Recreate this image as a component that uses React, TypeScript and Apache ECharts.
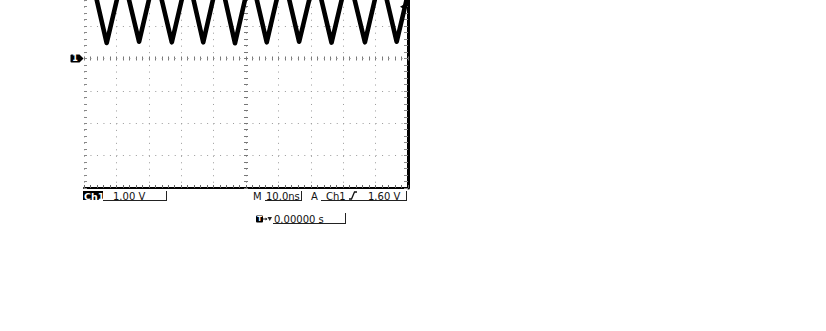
import React, { useEffect, useRef } from "react";
import * as echarts from "echarts";

// time in ns (10 ns/div), volts (1 V/div)
const traceTime = [-50, -48.0, -43.0, -38.0, -33.0, -28.0, -22.9, -18.0, -13.2, -8.3, -3.4, 1.5, 6.4, 11.4, 16.4, 21.4, 26.4, 31.5, 36.7, 41.6, 46.5, 50];
const traceVolts = [2.3, 2.65, 0.48, 2.6, 0.52, 2.65, 0.5, 2.6, 0.5, 2.65, 0.47, 2.6, 0.5, 2.65, 0.52, 2.6, 0.49, 2.65, 0.5, 2.6, 0.52, 2.0];

const timeRange = [-50, 50];
const voltRange = [-4, 4];
const groundLevel = 0;
const triggerLevel = 1.6;

const ch1Label = "Ch1";
const voltsPerDiv = "1.00 V";
const timePerDiv = "10.0ns";
const triggerSource = "Ch1";
const triggerText = "1.60 V";
const delayText = "0.00000 s";

const FONT = '10px "DejaVu Sans", sans-serif';
const DOT = [1, 5.48];
const SHIFT = 100; // the chart box starts 100px above the page

export default function App() {
  const ref = useRef<HTMLDivElement>(null);
  useEffect(() => {
    if (!ref.current) return;
    const chart = echarts.init(ref.current, null, { renderer: "svg" });
    const data = traceTime.map((t, i) => [t, traceVolts[i]]);

    const tickAxisBase = (extra: any) => ({
      type: "value",
      axisLabel: { show: false },
      splitLine: { show: false },
      ...extra,
    });

    const centerX = (pos: string) =>
      tickAxisBase({
        min: timeRange[0], max: timeRange[1], interval: 10, position: pos,
        axisLine: { show: true, onZero: true, onZeroAxisIndex: 0, lineStyle: { opacity: 0 } },
        axisTick: { show: true, inside: true, length: 2, lineStyle: { color: "#777" } },
        minorTick: { show: true, splitNumber: 5, length: 2, lineStyle: { color: "#777" } },
      });
    const centerY = (pos: string) =>
      tickAxisBase({
        min: voltRange[0], max: voltRange[1], interval: 1, position: pos,
        axisLine: { show: true, onZero: true, onZeroAxisIndex: 0, lineStyle: { opacity: 0 } },
        axisTick: { show: true, inside: true, length: 2, lineStyle: { color: "#777" } },
        minorTick: { show: true, splitNumber: 5, length: 2, lineStyle: { color: "#777" } },
      });

    const textEl = (x: number, y: number, text: string, extra: any = {}) => ({
      type: "text",
      x, y: y + SHIFT,
      style: { text, font: FONT, fill: "#111", textVerticalAlign: "middle", ...extra },
    });
    const lineEl = (x1: number, y1: number, x2: number, y2: number, w = 1) => ({
      type: "line",
      shape: { x1, y1: y1 + SHIFT, x2, y2: y2 + SHIFT },
      style: { stroke: "#222", lineWidth: w },
    });
    const pts = (p: number[][]) => p.map(([x, y]) => [x, y + SHIFT]);

    chart.setOption({
      animation: false,
      backgroundColor: "#fff",
      grid: { left: 84, right: 418, top: SHIFT - 71, bottom: 431 - (188 + SHIFT) },
      xAxis: [
        tickAxisBase({
          min: timeRange[0], max: timeRange[1], interval: 10, position: "bottom",
          axisLine: { show: true, onZero: false, lineStyle: { color: "#000", width: 2 } },
          axisTick: { show: true, inside: true, length: 3, lineStyle: { color: "#666" } },
          minorTick: { show: true, splitNumber: 5, length: 3, lineStyle: { color: "#666" } },
          splitLine: { show: true, lineStyle: { color: "#9a9a9a", width: 1, type: DOT } },
        }),
        centerX("top"),
        centerX("bottom"),
      ],
      yAxis: [
        tickAxisBase({
          min: voltRange[0], max: voltRange[1], interval: 1, position: "left",
          axisLine: { show: false, onZero: false },
          axisTick: { show: true, inside: true, length: 3, lineStyle: { color: "#888" } },
          minorTick: { show: true, splitNumber: 5, length: 3, lineStyle: { color: "#888" } },
          splitLine: { show: true, lineStyle: { color: "#9a9a9a", width: 1, type: DOT } },
        }),
        tickAxisBase({
          min: voltRange[0], max: voltRange[1], interval: 1, position: "right",
          axisLine: { show: true, onZero: false, lineStyle: { color: "#000", width: 3 } },
          axisTick: { show: true, inside: true, length: 4, lineStyle: { color: "#888" } },
          minorTick: { show: true, splitNumber: 5, length: 4, lineStyle: { color: "#888" } },
        }),
        centerY("left"),
        centerY("right"),
      ],
      series: [
        {
          type: "line",
          xAxisIndex: 0,
          yAxisIndex: 0,
          data,
          showSymbol: false,
          clip: true,
          z: 5,
          lineStyle: { color: "#000", width: 4.6, join: "round" },
          markPoint: {
            silent: true,
            data: [
              {
                coord: [timeRange[0], groundLevel],
                symbol: "path://M1 0L9 0L13 4L9 8L1 8Q0 8 0 7L0 1Q0 0 1 0Z",
                symbolSize: [13, 8],
                symbolOffset: [-7, 0],
                itemStyle: { color: "#000" },
                label: { show: true, formatter: "1", color: "#fff", fontSize: 8, fontWeight: "bold", fontFamily: "DejaVu Sans", offset: [-2, 0], position: "inside" },
              },
              {
                coord: [timeRange[1], triggerLevel],
                symbol: "path://M6 0L0 3.5L6 7Z",
                symbolSize: [6, 7],
                symbolOffset: [-5, 0],
                itemStyle: { color: "#000" },
                label: { show: false },
              },
            ],
          },
        },
      ],
      graphic: [
        { type: "rect", shape: { x: 83, y: 191 + SHIFT, width: 20, height: 9 }, style: { fill: "#000" } },
        textEl(84, 196, ch1Label, { fill: "#fff", font: 'bold 9.5px "DejaVu Sans", sans-serif' }),
        textEl(113, 196, voltsPerDiv),
        lineEl(103, 200.5, 166, 200.5),
        lineEl(166.5, 191, 166.5, 201),
        textEl(253, 196, "M"),
        textEl(266, 196, timePerDiv),
        lineEl(265, 200.5, 301, 200.5),
        lineEl(301.5, 191, 301.5, 201),
        textEl(311, 196, "A"),
        textEl(326, 196, triggerSource),
        { type: "polyline", shape: { points: pts([[349, 199], [351.5, 199], [354.5, 192], [357, 192]]) }, style: { stroke: "#111", lineWidth: 1.3, fill: null } },
        textEl(368, 196, triggerText),
        lineEl(321, 200.5, 406, 200.5),
        lineEl(406.5, 191, 406.5, 201),
        { type: "rect", shape: { x: 256, y: 215.5 + SHIFT, width: 7, height: 7, r: 1 }, style: { fill: "#000" } },
        textEl(257.3, 219.2, "T", { fill: "#fff", font: 'bold 7px "DejaVu Sans", sans-serif' }),
        lineEl(263, 219, 267, 219),
        { type: "polygon", shape: { points: pts([[265.5, 217.5], [267.5, 219], [265.5, 220.5]]) }, style: { fill: "#222" } },
        { type: "polygon", shape: { points: pts([[267.5, 217], [272, 217], [269.75, 221]]) }, style: { fill: "#222" } },
        textEl(274, 219, delayText),
        lineEl(273, 223.5, 345, 223.5),
        lineEl(345.5, 213, 345.5, 224),
      ],
    });
    return () => chart.dispose();
  }, []);
  return <div ref={ref} style={{ position: "fixed", left: 0, top: -SHIFT, width: 826, height: 331 + SHIFT }} />;
}
